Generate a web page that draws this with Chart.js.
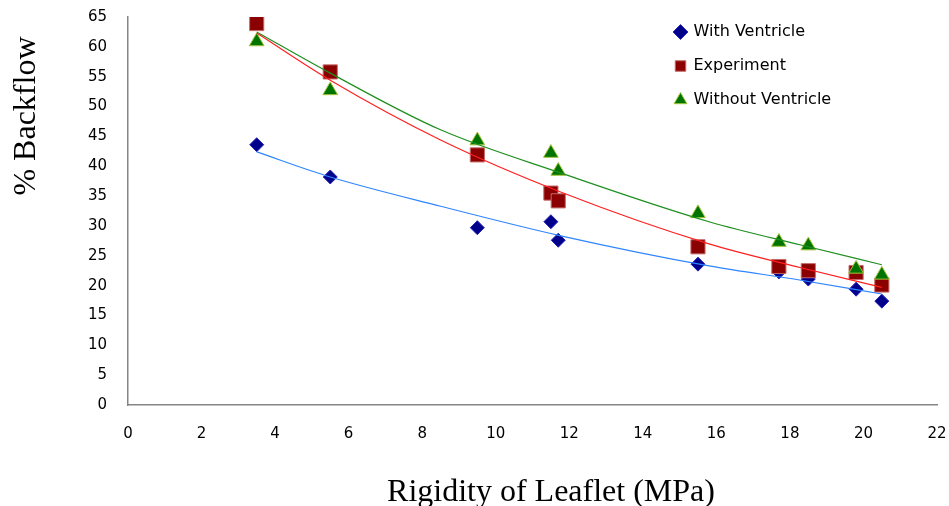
<!DOCTYPE html>
<html>
<head>
<meta charset="utf-8">
<script src="https://cdn.jsdelivr.net/npm/chart.js@4.4.1/dist/chart.umd.min.js"></script>
<style>
  html, body { margin: 0; padding: 0; background: #ffffff; }
  #wrap { width: 949px; height: 506px; }
</style>
</head>
<body>
<div id="wrap"><canvas id="c" width="949" height="506"></canvas></div>
<script>
// ---- data ----
const rigidity = [3.5, 5.5, 9.5, 11.5, 11.7, 15.5, 17.7, 18.5, 19.8, 20.5];
const withVentricle = [43.6, 38.2, 29.7, 30.7, 27.6, 23.6, 22.3, 21.1, 19.4, 17.4];
const experiment = [63.9, 55.8, 41.9, 35.5, 34.2, 26.5, 23.2, 22.5, 22.2, 20.1];
const withoutVentricle = [60.9, 52.7, 44.3, 42.2, 39.2, 32.1, 27.3, 26.7, 22.8, 21.8];

// trend lines
const trendX = [3.5, 5.5, 8.5, 11.8, 15.8, 18.3, 20.5];
const trendWithVentricle = [42.4, 38.2, 33.3, 28.3, 23.3, 20.9, 18.6];
const trendExperiment = [62.3, 54.4, 44.4, 35.6, 27.0, 23.0, 19.7];
const trendWithoutVentricle = [62.5, 55.6, 46.1, 38.8, 30.7, 26.8, 23.5];

const seriesNames = ['With Ventricle', 'Experiment', 'Without Ventricle'];
const xTickValues = [0, 2, 4, 6, 8, 10, 12, 14, 16, 18, 20, 22];
const yTickValues = [0, 5, 10, 15, 20, 25, 30, 35, 40, 45, 50, 55, 60, 65];
const xTitle = 'Rigidity of Leaflet (MPa)';
const yTitle = '% Backflow';

// ---- build ----
const pts = (xs, ys) => xs.map((x, i) => ({ x: x, y: ys[i] }));

Chart.defaults.font.family = "'DejaVu Sans', sans-serif";
Chart.defaults.color = '#000000';

function shiftTitle(scale, dx, dy) {
  if (!scale || scale._titleShifted) return;
  const orig = scale.drawTitle;
  scale.drawTitle = function () {
    const ctx = this.ctx;
    ctx.save();
    ctx.translate(dx, dy);
    orig.apply(this, arguments);
    ctx.restore();
  };
  scale._titleShifted = true;
}

function noEdgePadding(s) {
  s.paddingTop = 0; s.paddingBottom = 0; s.paddingLeft = 0; s.paddingRight = 0;
}

const placement = {
  id: 'placement',
  beforeDraw(chart) {
    const lg = chart.legend;
    if (lg) {
      lg.left = 657.5; lg.top = 6;
      lg.right = chart.width; lg.bottom = chart.height;
      lg.width = lg.right - lg.left; lg.height = lg.bottom - lg.top;
    }
    shiftTitle(chart.scales.x, 18.5, 6);
    shiftTitle(chart.scales.y, 0, -95);
  }
};

const trendStyle = (color) => ({
  showLine: true, pointRadius: 0, pointHoverRadius: 0,
  borderColor: color, backgroundColor: color, borderWidth: 1.2,
  cubicInterpolationMode: 'monotone', order: 0
});

new Chart(document.getElementById('c'), {
  type: 'scatter',
  data: {
    datasets: [
      {
        label: seriesNames[0], data: pts(rigidity, withVentricle),
        pointStyle: 'rectRot', pointRadius: 7, pointHoverRadius: 7,
        backgroundColor: '#00008b', borderColor: '#2323b8', borderWidth: 1, order: 3
      },
      {
        label: seriesNames[1], data: pts(rigidity, experiment),
        pointStyle: 'rect', pointRadius: 10, pointHoverRadius: 10,
        backgroundColor: '#8b0000', borderColor: '#c56a6a', borderWidth: 1, order: 2
      },
      {
        label: seriesNames[2], data: pts(rigidity, withoutVentricle),
        pointStyle: 'triangle', pointRadius: 8.5, pointHoverRadius: 8.5,
        backgroundColor: '#007400', borderColor: '#a3c43a', borderWidth: 1, order: 1
      },
      Object.assign({ label: 'trend ' + seriesNames[0], data: pts(trendX, trendWithVentricle) }, trendStyle('#2f86ff')),
      Object.assign({ label: 'trend ' + seriesNames[1], data: pts(trendX, trendExperiment) }, trendStyle('#ff2020')),
      Object.assign({ label: 'trend ' + seriesNames[2], data: pts(trendX, trendWithoutVentricle) }, trendStyle('#1f8f1f'))
    ]
  },
  options: {
    responsive: false,
    animation: false,
    events: [],
    layout: { padding: { left: 0, right: 12, top: 17, bottom: 0 } },
    plugins: {
      tooltip: { enabled: false },
      legend: {
        position: 'chartArea',
        align: 'start',
        labels: {
          usePointStyle: true,
          boxWidth: 10, boxHeight: 10.5,
          padding: 18,
          color: '#000000',
          font: { family: "'DejaVu Sans', sans-serif", size: 16 },
          filter: (item) => item.datasetIndex < 3,
          sort: (a, b) => a.datasetIndex - b.datasetIndex
        }
      }
    },
    scales: {
      x: {
        type: 'linear', position: 'bottom', min: 0, max: 22,
        afterBuildTicks: (s) => { s.ticks = xTickValues.map(v => ({ value: v })); },
        afterFit: (s) => { s.height = 101; noEdgePadding(s); },
        grid: { display: false, drawTicks: false },
        border: { display: true, color: '#858585', width: 1.5 },
        ticks: { padding: 20, font: { size: 15 }, color: '#000000', maxRotation: 0 },
        title: {
          display: true, text: xTitle, color: '#000000',
          font: { family: "'Liberation Serif', 'Times New Roman', serif", size: 32 },
          padding: { top: 0, bottom: 0 }
        }
      },
      y: {
        type: 'linear', position: 'left', min: 0, max: 65,
        afterBuildTicks: (s) => { s.ticks = yTickValues.map(v => ({ value: v })); },
        afterFit: (s) => { s.width = 128; noEdgePadding(s); },
        grid: { display: false, drawTicks: false },
        border: { display: true, color: '#858585', width: 1.5 },
        ticks: { padding: 21, font: { size: 15 }, color: '#000000' },
        title: {
          display: true, text: yTitle, color: '#000000',
          font: { family: "'Liberation Serif', 'Times New Roman', serif", size: 32 },
          padding: { top: 7, bottom: 0 }
        }
      }
    }
  },
  plugins: [placement]
});
</script>
</body>
</html>
